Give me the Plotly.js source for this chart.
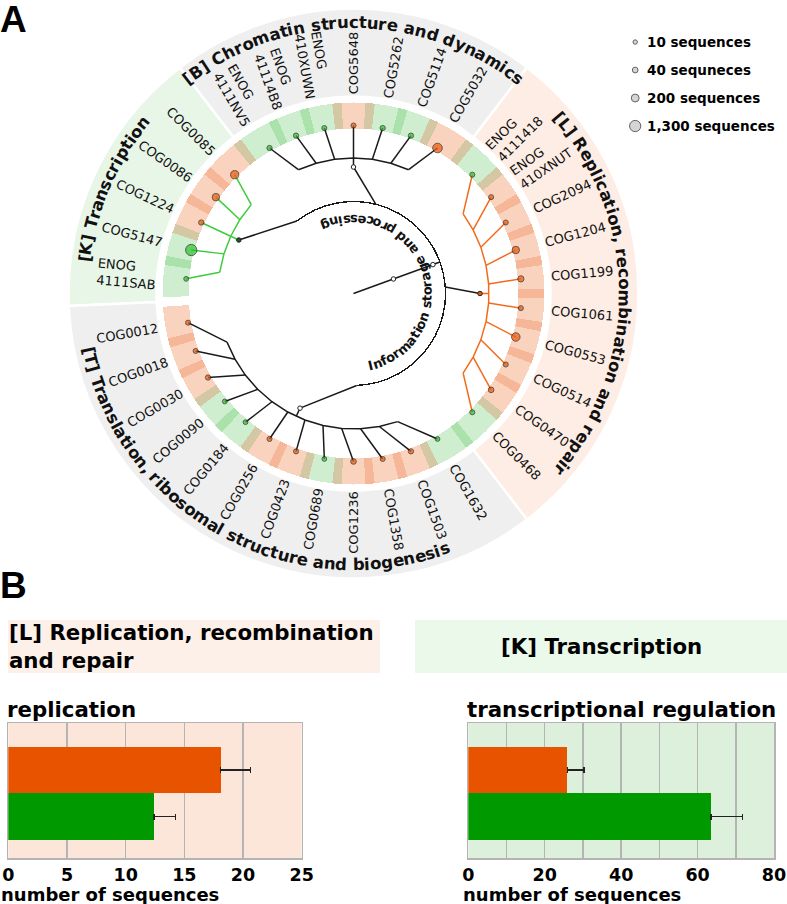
<!DOCTYPE html>
<html><head><meta charset="utf-8">
<script src="https://cdn.plot.ly/plotly-3.0.1.min.js"></script>
<style>html,body{margin:0;padding:0;background:#fff}</style>
</head><body><div id="chart" style="width:787px;height:904px"></div>
<script>
// ================= DATA =================
const groupCodes = ['K', 'B', 'L', 'J'];
const groupTitles = ['[K] Transcription', '[B] Chromatin structure and dynamics',
  '[L] Replication, recombination and repair', '[T] Translation, ribosomal structure and biogenesis'];
const leavesK = ['ENOG<br>4111SAB', 'COG5147', 'COG1224', 'COG0086', 'COG0085'];
const leavesB = ['ENOG<br>4111NV5', 'ENOG<br>41114B8', 'ENOG<br>410XUWN', 'COG5648', 'COG5262', 'COG5114', 'COG5032'];
const leavesL = ['ENOG<br>4111418', 'ENOG<br>410XNUT', 'COG2094', 'COG1204', 'COG1199', 'COG1061', 'COG0553', 'COG0514', 'COG0470', 'COG0468'];
const leavesJ = ['COG1632', 'COG1503', 'COG1358', 'COG1236', 'COG0689', 'COG0423', 'COG0256', 'COG0184', 'COG0090', 'COG0030', 'COG0018', 'COG0012'];
// leaf lineage: o = orange, g = green
const typeK = ['g', 'g', 'o', 'o', 'o'];
const typeB = ['g', 'g', 'g', 'o', 'g', 'g', 'o'];
const typeL = ['g', 'o', 'o', 'o', 'o', 'o', 'o', 'o', 'o', 'g'];
const typeJ = ['g', 'o', 'o', 'o', 'g', 'o', 'o', 'g', 'g', 'o', 'o', 'o'];
// number of sequences per leaf
const seqK = [15, 1300, 25, 150, 250];
const seqB = [25, 25, 20, 20, 25, 25, 550];
const seqL = [20, 20, 20, 150, 60, 20, 300, 20, 35, 20];
const seqJ = [15, 25, 20, 35, 15, 20, 20, 15, 15, 25, 20, 20];
const innerLabel = 'Information storage and processing';
const legendCounts = [10, 40, 200, 1300];
const legendLabels = ['10 sequences', '40 sequneces', '200 sequences', '1,300 sequences'];

// panel B
const barSeries = ['green', 'orange'];
const replicationMeans = [12.4, 18.1];
const replicationErr = [1.85, 2.55];
const transcriptionMeans = [63.5, 25.9];
const transcriptionErr = [8.2, 4.4];
const replTicks = [0, 5, 10, 15, 20, 25];
const transTicks = [0, 20, 40, 60, 80];

// ================= STYLE / GEOMETRY =================
const FONT = 'DejaVu Sans';
const W = 787, H = 904, CX = 353.5, CY = 293.5, RMAX = 290;
const R_RING_IN = 197, R_RING_OUT = 285, R_STRIP_IN = 165, R_STRIP_OUT = 191;
const R_LEAF = 168, R_ARC = 135.5, R_NODE = 126.5, R_TOP = 92;
const SQUEEZE = 0.8;
const STY = {
  K: {bg: '#e8f6e8', line: '#3dcc3d', node: '#1d5a1d', titleC: 156.5},
  B: {bg: '#efefef', line: '#1a1a1a', node: '#ffffff', titleC: 90},
  L: {bg: '#fdede4', line: '#f26b1d', node: '#e8560c', titleC: 0},
  J: {bg: '#efefef', line: '#1a1a1a', node: '#ffffff', titleC: -119}
};
const DOT = {o: '#f05a0a', g: '#2cc22c'};
const STRIP = {o: '#f9d3be', g: '#cfeecf'};
const SEP = {oo: '#f5b797', gg: '#abe2ab', og: '#d4c8a4'};
const dotSize = n => 4.4 * Math.pow(n / 10, 0.193);

const cv = document.createElement('canvas').getContext('2d');
function tw(t, size, bold) { cv.font = (bold ? 'bold ' : '') + size + 'px "' + FONT + '"'; return cv.measureText(t).width; }
function toPaper(r, deg) { const a = deg * Math.PI / 180; return {x: (CX + r * Math.cos(a)) / W, y: 1 - (CY - r * Math.sin(a)) / H}; }
function norm(a) { while (a > 180) a -= 360; while (a <= -180) a += 360; return a; }

const leafSets = [leavesK, leavesB, leavesL, leavesJ];
const typeSets = [typeK, typeB, typeL, typeJ];
const seqSets = [seqK, seqB, seqL, seqJ];
let idx = 0;
const groups = groupCodes.map((code, gi) => {
  const leaves = leafSets[gi];
  const theta = leaves.map((_, i) => 175 - 10 * (idx + i) - 5 * gi);
  idx += leaves.length;
  const c = (theta[0] + theta[theta.length - 1]) / 2;
  return {code, title: groupTitles[gi], leaves, types: typeSets[gi], seq: seqSets[gi], theta, c,
    span: theta[0] - theta[theta.length - 1] + 15};
});
const flat = [];
groups.forEach(g => g.leaves.forEach((n, i) => flat.push({name: n, th: g.theta[i], type: g.types[i], seq: g.seq[i], g})));

const traces = [];
// outer label ring sectors
traces.push({type: 'barpolar', theta: groups.map(g => g.c), width: groups.map(g => g.span),
  base: groups.map(() => R_RING_IN), r: groups.map(() => R_RING_OUT - R_RING_IN),
  marker: {color: groups.map(g => STY[g.code].bg), line: {color: '#ffffff', width: 2.5}}, hoverinfo: 'skip'});
// leaf strips
const sb = flat.map((f, i) => {
  const up = i === 0 ? f.th + 6 : (flat[i - 1].th + f.th) / 2;
  const lo = i === flat.length - 1 ? f.th - 6 : (f.th + flat[i + 1].th) / 2;
  return {up, lo};
});
traces.push({type: 'barpolar', theta: sb.map(b => (b.up + b.lo) / 2), width: sb.map(b => b.up - b.lo),
  base: flat.map(() => R_STRIP_IN), r: flat.map(() => R_STRIP_OUT - R_STRIP_IN),
  marker: {color: flat.map(f => STRIP[f.type]), line: {width: 0}}, hoverinfo: 'skip'});
// separators
const sepT = [], sepC = [];
for (let i = 0; i < flat.length - 1; i++) {
  sepT.push((flat[i].th + flat[i + 1].th) / 2);
  const a = flat[i].type, b = flat[i + 1].type;
  sepC.push(a === b ? SEP[a + b] : SEP.og);
}
traces.push({type: 'barpolar', theta: sepT, width: sepT.map(() => 2.8), base: sepT.map(() => R_STRIP_IN),
  r: sepT.map(() => R_STRIP_OUT - R_STRIP_IN), marker: {color: sepC, line: {width: 0}}, hoverinfo: 'skip'});
// top-level arc
const rootC = (Math.max(...groups.map(g => g.c)) + Math.min(...groups.map(g => g.c))) / 2;
const att = th => rootC + (th - rootC) * SQUEEZE;
const attHi = att(Math.max(...groups.map(g => g.c))), attLo = att(Math.min(...groups.map(g => g.c)));
traces.push({type: 'barpolar', theta: [(attHi + attLo) / 2], width: [attHi - attLo], base: [R_TOP - 0.7], r: [1.4],
  marker: {color: '#1a1a1a', line: {width: 0}}, hoverinfo: 'skip'});

// tree lines
const lineSets = {};
function seg(col, r1, t1, r2, t2) {
  if (!lineSets[col]) lineSets[col] = {r: [], t: []};
  lineSets[col].r.push(r1, r2, null); lineSets[col].t.push(t1, t2, null);
}
seg('#1a1a1a', 0, rootC, R_TOP, rootC);
groups.forEach(g => {
  const col = STY[g.code].line;
  seg('#1a1a1a', R_TOP, att(g.c), R_NODE, g.c);
  seg(col, R_NODE, g.c, R_ARC, g.c);
  const ga = th => g.c + (th - g.c) * SQUEEZE;
  if (!lineSets[col]) lineSets[col] = {r: [], t: []};
  g.theta.forEach(th => { lineSets[col].r.push(R_ARC); lineSets[col].t.push(ga(th)); });
  lineSets[col].r.push(null); lineSets[col].t.push(null);
  g.theta.forEach(th => seg(col, R_ARC, ga(th), R_LEAF, th));
});
Object.keys(lineSets).forEach(col => traces.push({type: 'scatterpolar', mode: 'lines', r: lineSets[col].r,
  theta: lineSets[col].t, line: {color: col, width: 1.5}, connectgaps: false, hoverinfo: 'skip'}));
// internal nodes
traces.push({type: 'scatterpolar', mode: 'markers', r: [42.5, 84.5].concat(groups.map(() => R_NODE)),
  theta: [rootC, rootC].concat(groups.map(g => g.c)),
  marker: {size: 4.5, color: ['#ffffff', '#ffffff'].concat(groups.map(g => STY[g.code].node)), line: {color: '#222', width: 1}}, hoverinfo: 'skip'});
// leaf dots
traces.push({type: 'scatterpolar', mode: 'markers', r: flat.map(() => R_LEAF), theta: flat.map(f => f.th),
  marker: {size: flat.map(f => dotSize(f.seq)), color: flat.map(f => DOT[f.type]), line: {color: '#222', width: 1}}, hoverinfo: 'skip'});

// ---- annotations ----
const anns = [];
// leaf labels
flat.forEach(f => {
  const lines = f.name.split('<br>');
  const w = Math.max(...lines.map(l => tw(l, 13, false)));
  const out = f.th > -90 && f.th <= 90;
  const p = toPaper(R_RING_IN + 1.5 + w / 2, f.th);
  anns.push({xref: 'paper', yref: 'paper', x: p.x, y: p.y, text: f.name, showarrow: false, align: 'left',
    xanchor: 'center', yanchor: 'middle', textangle: norm(out ? -f.th : 180 - f.th),
    font: {size: 13, family: FONT, color: '#111'}});
});
function curved(str, center, rC, size, dir) {
  const rAdv = rC + dir * 0.3 * size;
  const total = tw(str, size, true);
  const k = 180 / Math.PI / rAdv;
  const start = center - dir * total * k / 2;
  for (let i = 0; i < str.length; i++) {
    const ch = str[i]; if (ch === ' ') continue;
    const mid = (tw(str.slice(0, i), size, true) + tw(str.slice(0, i + 1), size, true)) / 2;
    const th = start + dir * mid * k;
    const p = toPaper(rC, th);
    anns.push({xref: 'paper', yref: 'paper', x: p.x, y: p.y, text: '<b>' + ch + '</b>', showarrow: false,
      xanchor: 'center', yanchor: 'middle', textangle: norm(dir < 0 ? 90 - th : -(th + 90)),
      font: {size, family: FONT, color: '#111'}});
  }
}
groups.forEach(g => curved(g.title, STY[g.code].titleC, 271, 16.5, g.code === 'J' ? 1 : -1));
curved(innerLabel, 18.5, 74, 13, 1);

// panel letters
anns.push({xref: 'paper', yref: 'paper', x: -0.002, y: 1 - 19 / H, text: '<b>A</b>', showarrow: false, xanchor: 'left', yanchor: 'middle', font: {size: 37, family: 'Liberation Sans', color: '#000'}});
anns.push({xref: 'paper', yref: 'paper', x: -0.002, y: 1 - 585 / H, text: '<b>B</b>', showarrow: false, xanchor: 'left', yanchor: 'middle', font: {size: 37, family: 'Liberation Sans', color: '#000'}});
// header boxes text
anns.push({xref: 'paper', yref: 'paper', x: 7 / W, y: 1 - 646 / H, text: '<b>[L] Replication, recombination<br>and repair</b>', showarrow: false, align: 'left', xanchor: 'left', yanchor: 'middle', font: {size: 21.3, family: FONT, color: '#000'}});
anns.push({xref: 'paper', yref: 'paper', x: 601 / W, y: 1 - 646 / H, text: '<b>[K] Transcription</b>', showarrow: false, xanchor: 'center', yanchor: 'middle', font: {size: 21.3, family: FONT, color: '#000'}});
// chart titles
anns.push({xref: 'paper', yref: 'paper', x: 5 / W, y: 1 - 709 / H, text: '<b>replication</b>', showarrow: false, xanchor: 'left', yanchor: 'middle', font: {size: 21.3, family: FONT, color: '#000'}});
anns.push({xref: 'paper', yref: 'paper', x: 465 / W, y: 1 - 709 / H, text: '<b>transcriptional regulation</b>', showarrow: false, xanchor: 'left', yanchor: 'middle', font: {size: 21.3, family: FONT, color: '#000'}});
// axis titles
anns.push({xref: 'paper', yref: 'paper', x: 0, y: 1 - 894 / H, text: '<b>number of sequences</b>', showarrow: false, xanchor: 'left', yanchor: 'middle', borderpad: 0, font: {size: 18, family: FONT, color: '#000'}});
anns.push({xref: 'paper', yref: 'paper', x: 462 / W, y: 1 - 894 / H, text: '<b>number of sequences</b>', showarrow: false, xanchor: 'left', yanchor: 'middle', borderpad: 0, font: {size: 18, family: FONT, color: '#000'}});
// size legend text
legendLabels.forEach((t, i) => anns.push({xref: 'x3', yref: 'y3', x: 0.14, y: i, text: '<b>' + t + '</b>', showarrow: false, xanchor: 'left', yanchor: 'middle', font: {size: 13.5, family: FONT, color: '#000'}}));

// legend markers
traces.push({type: 'scatter', mode: 'markers', x: legendCounts.map(() => 0.08), y: legendCounts.map((_, i) => i),
  xaxis: 'x3', yaxis: 'y3', marker: {size: legendCounts.map(dotSize), color: '#c4c4c4', line: {color: '#222', width: 1}}, hoverinfo: 'skip'});

// bar charts
const errStyle = {type: 'data', symmetric: false, color: '#222', thickness: 1.5, width: 3};
traces.push({type: 'bar', orientation: 'h', y: barSeries, x: replicationMeans, xaxis: 'x', yaxis: 'y',
  marker: {color: barSeries.map(s => s === 'orange' ? '#e85300' : '#009a00')},
  error_x: Object.assign({array: replicationErr, arrayminus: replicationErr.map(() => 0)}, errStyle), hoverinfo: 'skip'});
traces.push({type: 'bar', orientation: 'h', y: barSeries, x: transcriptionMeans, xaxis: 'x2', yaxis: 'y2',
  marker: {color: barSeries.map(s => s === 'orange' ? '#e85300' : '#009a00')},
  error_x: Object.assign({array: transcriptionErr, arrayminus: transcriptionErr.map(() => 0)}, errStyle), hoverinfo: 'skip'});

const yDom = [1 - 858 / H, 1 - 723 / H];
const xCommon = {showgrid: true, gridcolor: '#b4b4b4', gridwidth: 1.5, zeroline: false, showline: true, linecolor: '#b4b4b4', linewidth: 1.5, mirror: true,
  ticks: '', tickfont: {size: 17.5, family: FONT, color: '#000', weight: 'bold'}, fixedrange: true};
const yCommon = {type: 'category', categoryorder: 'array', categoryarray: barSeries, range: [-0.886, 2.007], showticklabels: false,
  showgrid: false, zeroline: false, showline: true, linecolor: '#b4b4b4', linewidth: 1.5, mirror: true, ticks: '', fixedrange: true};

const layout = {
  width: W, height: H, margin: {l: 0, r: 0, t: 0, b: 0}, paper_bgcolor: '#ffffff', plot_bgcolor: 'rgba(0,0,0,0)',
  showlegend: false, hovermode: false, font: {family: FONT, color: '#000'}, bargap: 0,
  polar: {domain: {x: [(CX - RMAX) / W, (CX + RMAX) / W], y: [1 - (CY + RMAX) / H, 1 - (CY - RMAX) / H]},
    bgcolor: 'rgba(0,0,0,0)', radialaxis: {visible: false, range: [0, RMAX]},
    angularaxis: {visible: false, rotation: 0, direction: 'counterclockwise'}},
  xaxis: Object.assign({}, xCommon, {domain: [8.3 / W, 301.7 / W], range: [0, 25], tickvals: replTicks, anchor: 'y'}),
  yaxis: Object.assign({}, yCommon, {domain: yDom, anchor: 'x'}),
  xaxis2: Object.assign({}, xCommon, {domain: [468.3 / W, 774 / W], range: [0, 80], tickvals: transTicks, anchor: 'y2',
    minor: {dtick: 10, tick0: 0, showgrid: true, gridcolor: '#b4b4b4', gridwidth: 1.5, ticks: ''}}),
  yaxis2: Object.assign({}, yCommon, {domain: yDom, anchor: 'x2'}),
  xaxis3: {domain: [622 / W, 1], range: [0, 1], visible: false, fixedrange: true, anchor: 'y3'},
  yaxis3: {domain: [1 - 140 / H, 1 - 30 / H], range: [3.5, -0.43], visible: false, fixedrange: true, anchor: 'x3'},
  shapes: [
    {type: 'rect', xref: 'x domain', yref: 'y domain', x0: 0, x1: 1, y0: 0, y1: 1, fillcolor: '#fce6da', line: {width: 0}, layer: 'below'},
    {type: 'rect', xref: 'x2 domain', yref: 'y2 domain', x0: 0, x1: 1, y0: 0, y1: 1, fillcolor: '#dcf0dc', line: {width: 0}, layer: 'below'},
    {type: 'rect', xref: 'paper', yref: 'paper', x0: 8 / W, x1: 380 / W, y0: 1 - 673 / H, y1: 1 - 620 / H, fillcolor: '#fdf0e9', line: {width: 0}, layer: 'below'},
    {type: 'rect', xref: 'paper', yref: 'paper', x0: 415 / W, x1: 1, y0: 1 - 673 / H, y1: 1 - 620 / H, fillcolor: '#ebf9eb', line: {width: 0}, layer: 'below'}
  ],
  annotations: anns
};
Plotly.newPlot('chart', traces, layout, {staticPlot: true, displayModeBar: false});
</script></body></html>
